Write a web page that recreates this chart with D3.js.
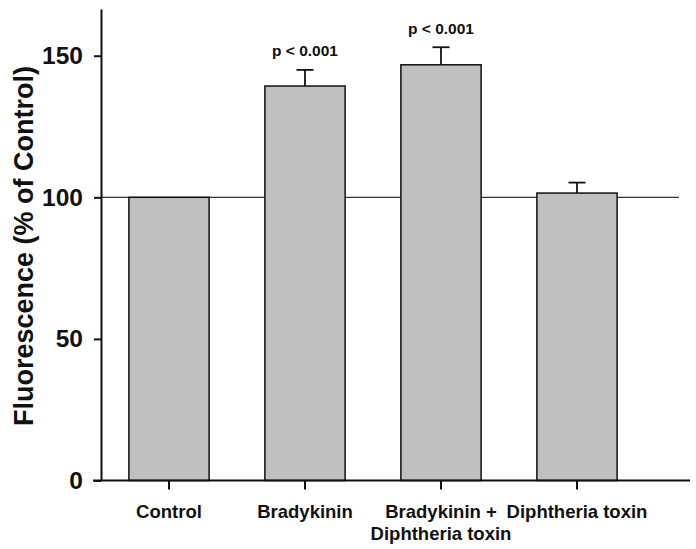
<!DOCTYPE html>
<html>
<head>
<meta charset="utf-8">
<script src="https://cdn.jsdelivr.net/npm/d3@7"></script>
<style>
  html, body { margin: 0; padding: 0; background: #fff; }
  svg { display: block; font-family: "Liberation Sans", Arial, Helvetica, sans-serif; font-weight: bold; }
</style>
</head>
<body>
<svg id="chart" width="696" height="549"></svg>
<script>
const categories = ["Control", "Bradykinin", "Bradykinin +\nDiphtheria toxin", "Diphtheria toxin"];
const means = [100, 139.3, 146.8, 101.5];
const errors = [0, 5.7, 6.2, 3.7];
const pLabels = ["", "p < 0.001", "p < 0.001", ""];
const yTicks = [0, 50, 100, 150];
const referenceValue = 100;
const yTitle = "Fluorescence (% of Control)";

const svg = d3.select("#chart");
const x = d3.scaleBand().domain(categories).range([101, 645]).paddingInner(0.41).paddingOuter(0.205);
const y = d3.scaleLinear().domain([0, 166.5]).range([480.5, 9]);

// reference line
svg.append("line")
  .attr("x1", 101).attr("x2", 679)
  .attr("y1", y(referenceValue)).attr("y2", y(referenceValue))
  .attr("stroke", "#333").attr("stroke-width", 1.2);

// bars
svg.selectAll("rect.bar").data(categories).join("rect")
  .attr("class", "bar")
  .attr("x", d => x(d))
  .attr("width", x.bandwidth())
  .attr("y", (d, i) => y(means[i]))
  .attr("height", (d, i) => y(0) - y(means[i]))
  .attr("fill", "#c0c0c0")
  .attr("stroke", "#111")
  .attr("stroke-width", 1.5);

// error bars
const eg = svg.append("g").attr("stroke", "#111").attr("stroke-width", 1.8);
categories.forEach((c, i) => {
  if (!errors[i]) return;
  const cx = x(c) + x.bandwidth() / 2;
  eg.append("line").attr("x1", cx).attr("x2", cx).attr("y1", y(means[i])).attr("y2", y(means[i] + errors[i]));
  eg.append("line").attr("x1", cx - 8.5).attr("x2", cx + 8.5).attr("y1", y(means[i] + errors[i])).attr("y2", y(means[i] + errors[i]));
});

// p labels
categories.forEach((c, i) => {
  if (!pLabels[i]) return;
  svg.append("text")
    .attr("x", x(c) + x.bandwidth() / 2)
    .attr("y", y(means[i] + errors[i]) - 13.5)
    .attr("text-anchor", "middle")
    .attr("font-size", 15.5)
    .attr("fill", "#111")
    .text(pLabels[i]);
});

// y axis
const yAxis = svg.append("g").attr("transform", "translate(101,0)")
  .call(d3.axisLeft(y).tickValues(yTicks).tickSize(7).tickSizeOuter(0).tickPadding(11));
yAxis.select(".domain").attr("stroke", "#111").attr("stroke-width", 2);
yAxis.selectAll(".tick line").attr("stroke", "#111").attr("stroke-width", 2);
yAxis.selectAll(".tick text")
  .attr("font-size", 24.5).attr("font-family", "Liberation Sans, Arial, sans-serif")
  .attr("font-weight", "bold").attr("fill", "#111");

// x axis
const xAxis = svg.append("g").attr("transform", `translate(0,${y(0)})`)
  .call(d3.axisBottom(x).tickSize(9).tickSizeOuter(0).tickFormat(""));
xAxis.select(".domain").remove();
xAxis.append("line").attr("x1", 93).attr("x2", 690).attr("y1", 0).attr("y2", 0)
  .attr("stroke", "#111").attr("stroke-width", 2);
xAxis.selectAll(".tick line").attr("stroke", "#111").attr("stroke-width", 2);

categories.forEach(c => {
  const t = svg.append("text")
    .attr("x", x(c) + x.bandwidth() / 2)
    .attr("y", 517.5)
    .attr("text-anchor", "middle")
    .attr("font-size", 18.5)
    .attr("fill", "#111");
  c.split("\n").forEach((line, k) => {
    t.append("tspan").attr("x", x(c) + x.bandwidth() / 2).attr("dy", k === 0 ? 0 : 22.5).text(line);
  });
});

// y title
svg.append("text")
  .attr("transform", `translate(33,${246}) rotate(-90)`)
  .attr("text-anchor", "middle")
  .attr("font-size", 27)
  .attr("fill", "#111")
  .text(yTitle);
</script>
</body>
</html>
